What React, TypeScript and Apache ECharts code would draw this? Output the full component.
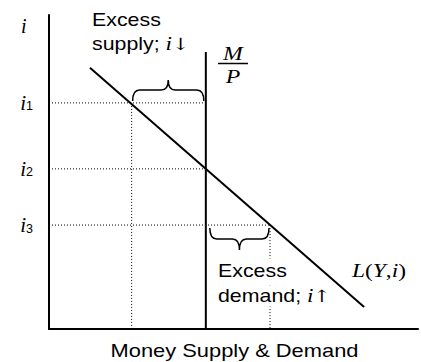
import React, { useEffect, useRef } from "react";
import * as echarts from "echarts";

// ---- data (in abstract quantity / interest-rate units) ----
const quantityRange = [0, 100];
const rateRange = [0, 100];
const rateLevels = [72, 51, 33.1]; // i1, i2, i3
const rateSubscripts = ["1", "2", "3"];
const realMoneySupply = 42.5; // M/P (vertical supply line)
const supplyTop = 88.2;
const demandQ = [11.1, 85.4]; // L(Y,i) endpoints, quantity
const demandI = [83.2, 7.0]; // L(Y,i) endpoints, rate
const demandAtI1 = 22.4;
const demandAtI3 = 59.9;

const SANS = "'Liberation Sans', Arial, sans-serif";
const SERIF = "'Liberation Serif', 'Times New Roman', serif";
const ARROW = "'DejaVu Serif', 'DejaVu Sans', serif";

function dotted(data: number[][]) {
  return {
    type: "line",
    data,
    symbol: "none",
    silent: true,
    lineStyle: { color: "#000", width: 1, type: [1, 2] },
    z: 1,
  };
}

function annot(x: number, y: number, text: string, lh: number, opts: any = {}) {
  return {
    type: "text",
    x,
    y,
    scaleX: opts.scaleX ?? 1.22,
    z: 100,
    style: {
      text,
      font: `17.5px ${SANS}`,
      fill: "#000",
      lineHeight: lh,
      textVerticalAlign: "top",
      verticalAlign: "top",
      backgroundColor: opts.bg,
      padding: opts.padding,
      rich: {
        it: { fontFamily: SERIF, fontStyle: "italic", fontSize: 19, lineHeight: lh, width: 5, fill: "#000", color: "#000" },
        ar: { fontFamily: ARROW, fontSize: 17, lineHeight: lh, fill: "#000", color: "#000" },
      },
    },
  };
}

export default function App() {
  const ref = useRef<HTMLDivElement>(null);
  useEffect(() => {
    if (!ref.current) return;
    const chart = echarts.init(ref.current, null, { renderer: "svg" });
    const [i1, i2, i3] = rateLevels;
    const braces = [
      [demandAtI1, realMoneySupply, i1, -1],
      [realMoneySupply, demandAtI3, i3, 1],
    ];
    chart.setOption({
      animation: false,
      backgroundColor: "#fff",
      grid: { left: 49, right: 3, top: 15, bottom: 33 },
      xAxis: {
        type: "value",
        min: quantityRange[0],
        max: quantityRange[1],
        axisLine: { show: true, lineStyle: { color: "#000", width: 2 } },
        axisTick: { show: false },
        axisLabel: { show: false },
        splitLine: { show: false },
      },
      yAxis: {
        type: "value",
        min: rateRange[0],
        max: rateRange[1],
        axisLine: { show: true, lineStyle: { color: "#000", width: 2 } },
        axisTick: { show: false },
        splitLine: { show: false },
        axisLabel: {
          show: true,
          customValues: rateLevels,
          margin: 16,
          formatter: (v: number) => {
            const idx = rateLevels.findIndex((r) => Math.abs(r - v) < 1e-6);
            return `{i|i}{s|${rateSubscripts[idx] ?? ""}}`;
          },
          rich: {
            i: { fontFamily: SERIF, fontStyle: "italic", fontSize: 21, color: "#000" },
            s: { fontFamily: SANS, fontSize: 12.5, color: "#000", padding: [7, 0, 0, 0] },
          },
        },
      },
      series: [
        dotted([[0, i1], [realMoneySupply, i1]]),
        dotted([[0, i2], [realMoneySupply, i2]]),
        dotted([[0, i3], [demandAtI3, i3]]),
        dotted([[demandAtI1, i1], [demandAtI1, 0]]),
        dotted([[demandAtI3, i3], [demandAtI3, 0]]),
        {
          type: "line",
          data: [[realMoneySupply, 0], [realMoneySupply, supplyTop]],
          symbol: "none",
          lineStyle: { color: "#000", width: 2 },
          z: 3,
        },
        {
          type: "line",
          data: [[demandQ[0], demandI[0]], [demandQ[1], demandI[1]]],
          symbol: "none",
          lineStyle: { color: "#000", width: 2 },
          z: 3,
        },
        {
          type: "custom",
          coordinateSystem: "cartesian2d",
          encode: { x: [0, 1], y: 2 },
          data: braces,
          z: 4,
          renderItem: (params: any, api: any) => {
            const a = api.coord([api.value(0), api.value(2)]);
            const b = api.coord([api.value(1), api.value(2)]);
            const dir = api.value(3);
            const up = dir < 0;
            const x1 = a[0] + (up ? 1 : 4);
            const x2 = b[0] - (up ? 2 : 1);
            const y0 = a[1];
            const yEnd = y0 + dir * (up ? 2 : 3);
            const yH = y0 + dir * (up ? 13 : 14);
            const yTip = y0 + dir * (up ? 23 : 25);
            const xm = (x1 + x2) / 2;
            const r = 7;
            const d =
              `M${x1},${yEnd} Q${x1},${yH} ${x1 + r},${yH} L${xm - r},${yH} ` +
              `Q${xm},${yH} ${xm},${yTip} Q${xm},${yH} ${xm + r},${yH} ` +
              `L${x2 - r},${yH} Q${x2},${yH} ${x2},${yEnd}`;
            return {
              type: "path",
              shape: { pathData: d },
              style: { fill: "none", stroke: "#000", lineWidth: 1.5 },
            };
          },
        },
      ],
      graphic: [
        {
          type: "text",
          x: 21,
          y: 14,
          z: 100,
          style: {
            text: "i",
            font: `italic 20px ${SERIF}`,
            fill: "#000",
            textVerticalAlign: "top",
            verticalAlign: "top",
            lineHeight: 24,
          },
        },
        annot(92, 8, "Excess", 24),
        annot(92, 32, "supply; {it|i}{ar|↓}", 24),
        annot(218, 258.5, "Excess", 25, { bg: "#fff", padding: [0, 0, 2, 0] }),
        annot(218, 285.5, "demand; {it|i}{ar|↑}", 21, { bg: "#fff", padding: [0, 0, 0, 0] }),
        {
          type: "text",
          x: 352,
          y: 259,
          scaleX: 1.3,
          z: 100,
          style: {
            text: "{it|L}({it|Y},{it|i})",
            font: `18px ${SERIF}`,
            fill: "#000",
            lineHeight: 24,
            textVerticalAlign: "top",
            verticalAlign: "top",
            rich: {
              it: { fontFamily: SERIF, fontStyle: "italic", fontSize: 18, lineHeight: 24 },
            },
          },
        },
        {
          type: "text",
          x: 233,
          y: 42,
          scaleX: 1.25,
          z: 100,
          style: {
            text: "M",
            font: `italic 19px ${SERIF}`,
            fill: "#000",
            lineHeight: 24,
            textAlign: "center",
            align: "center",
            textVerticalAlign: "top",
            verticalAlign: "top",
          },
        },
        {
          type: "line",
          z: 100,
          shape: { x1: 218, y1: 63.5, x2: 248, y2: 63.5 },
          style: { stroke: "#000", lineWidth: 1.5 },
        },
        {
          type: "text",
          x: 233,
          y: 65,
          scaleX: 1.25,
          z: 100,
          style: {
            text: "P",
            font: `italic 19px ${SERIF}`,
            fill: "#000",
            lineHeight: 24,
            textAlign: "center",
            align: "center",
            textVerticalAlign: "top",
            verticalAlign: "top",
          },
        },
        {
          type: "text",
          x: 234.5,
          y: 339,
          scaleX: 1.25,
          z: 100,
          style: {
            text: "Money Supply & Demand",
            font: `17.5px ${SANS}`,
            fill: "#000",
            lineHeight: 24,
            textAlign: "center",
            align: "center",
            textVerticalAlign: "top",
            verticalAlign: "top",
          },
        },
      ],
    });
    return () => chart.dispose();
  }, []);
  return (
    <div
      ref={ref}
      style={{ position: "fixed", left: 0, top: 0, width: 421, height: 362, background: "#fff" }}
    />
  );
}
